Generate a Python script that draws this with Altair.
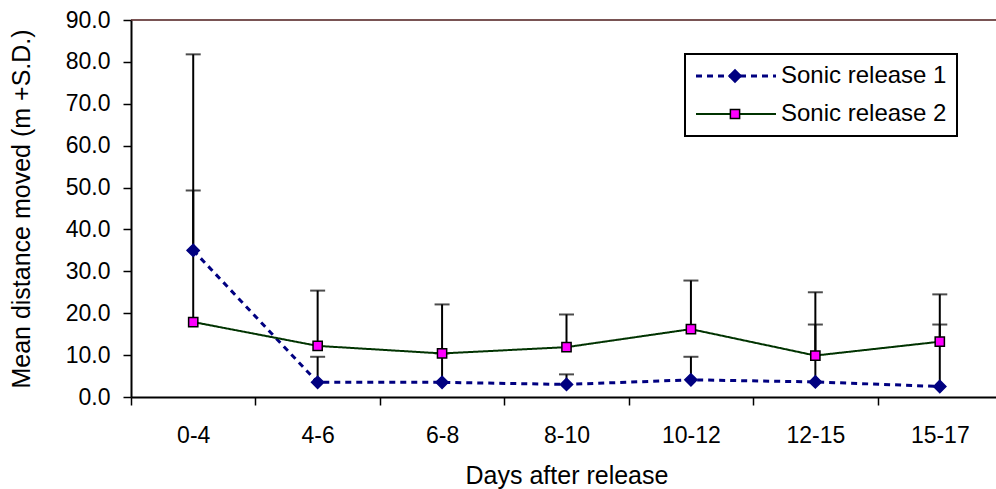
import altair as alt
import pandas as pd

categories = ["0-4", "4-6", "6-8", "8-10", "10-12", "12-15", "15-17"]
series_names = ["Sonic release 1", "Sonic release 2"]
release1_mean = [35.0, 3.5, 3.5, 3.0, 4.1, 3.6, 2.5]
release1_sd_top = [81.8, 9.6, 10.4, 5.4, 9.6, 17.3, 17.3]
release2_mean = [17.9, 12.2, 10.4, 11.9, 16.2, 9.9, 13.2]
release2_sd_top = [49.3, 25.4, 22.1, 19.7, 27.8, 25.0, 24.5]
y_ticks = [0, 10, 20, 30, 40, 50, 60, 70, 80, 90]

rows = []
for name, means, tops in zip(series_names, [release1_mean, release2_mean],
                             [release1_sd_top, release2_sd_top]):
    for c, m, t in zip(categories, means, tops):
        rows.append({"period": c, "series": name, "series_b": name, "mean": m, "top": t})
df = pd.DataFrame(rows)

FONT = "Liberation Sans"
NAVY = "#000080"
GREEN = "#003300"
MAGENTA = "#FF00FF"

x_enc = alt.X(
    "period:N",
    sort=categories,
    scale=alt.Scale(range=[0, 871], paddingInner=0, paddingOuter=0),
    axis=alt.Axis(
        title="Days after release", labelAngle=0, tickBand="extent", tickSize=8,
        tickColor="black", tickWidth=1.5, domainColor="black", domainWidth=2,
        labelFontSize=23, labelPadding=19, titleFontSize=25, titlePadding=16,
        labelColor="black", titleColor="black",
    ),
)

y_axis = alt.Axis(
    values=y_ticks, format=".1f", title="Mean distance moved (m +S.D.)",
    tickSize=8, tickColor="black", tickWidth=1.5, domainColor="black", domainWidth=2,
    labelFontSize=23, labelPadding=13, titleFontSize=25, titlePadding=31,
    grid=False, labelColor="black", titleColor="black",
)
y_scale = alt.Scale(domain=[0, 90], nice=False, zero=True)

base = alt.Chart(df)

err_rules = base.mark_rule(color="black", strokeWidth=2).encode(
    x=x_enc,
    y=alt.Y("mean:Q", scale=y_scale, axis=y_axis),
    y2="top:Q",
)

err_caps = base.mark_tick(color="black", size=15, thickness=2).encode(
    x=x_enc,
    y=alt.Y("top:Q", scale=y_scale, axis=y_axis),
)

legend_a = alt.Legend(
    orient="none", legendX=554, legendY=34, title=None,
    symbolType="M-8,0H8", symbolSize=100, symbolOffset=29,
    symbolFillColor="transparent",
    labelFontSize=24, labelFont=FONT, labelColor="black", labelOffset=33,
    labelLimit=400, padding=10, strokeColor="black", rowPadding=14, zindex=1,
)

lines = base.mark_line(strokeCap="butt").encode(
    x=x_enc,
    y=alt.Y("mean:Q", scale=y_scale, axis=y_axis),
    color=alt.Color("series:N", scale=alt.Scale(range=[NAVY, GREEN]), legend=legend_a),
    strokeDash=alt.StrokeDash("series:N", scale=alt.Scale(range=[[6, 5], [1, 0]]), legend=legend_a),
    strokeWidth=alt.StrokeWidth("series:N", scale=alt.Scale(range=[3, 2]), legend=legend_a),
)

legend_b = alt.Legend(
    orient="none", legendX=582, legendY=34, title=None,
    labelFontSize=24, labelFont=FONT, labelExpr="' '", labelOffset=5, labelLimit=400,
    padding=10, rowPadding=14, symbolStrokeWidth=1.5, zindex=2,
)

points = base.mark_point(filled=True, opacity=1, strokeWidth=1.5).encode(
    x=x_enc,
    y=alt.Y("mean:Q", scale=y_scale, axis=y_axis),
    shape=alt.Shape("series_b:N", scale=alt.Scale(range=["diamond", "square"]), legend=legend_b),
    fill=alt.Fill("series_b:N", scale=alt.Scale(range=[NAVY, MAGENTA]), legend=legend_b),
    stroke=alt.Stroke("series_b:N", scale=alt.Scale(range=[NAVY, "black"]), legend=legend_b),
    size=alt.Size("series_b:N", scale=alt.Scale(range=[150, 85]), legend=legend_b),
)

top_border = alt.Chart(pd.DataFrame({"k": [0]})).mark_rule(
    color="#4d1a1a", strokeWidth=1.5
).encode(
    y=alt.datum(90, type="quantitative"),
    x=alt.value(0),
    x2=alt.value(871),
)

chart = alt.layer(err_rules, err_caps, lines, points, top_border).properties(
    width=865,
    height=377,
    autosize=alt.AutoSizeParams(type="none"),
    padding={"left": 131, "top": 20, "right": 0, "bottom": 92},
).configure_view(stroke=None).configure_axis(
    labelFont=FONT, titleFont=FONT, titleFontWeight="normal"
).configure_legend(strokeWidth=2)

chart.save("out.html", embed_options={"renderer": "svg", "actions": False})
